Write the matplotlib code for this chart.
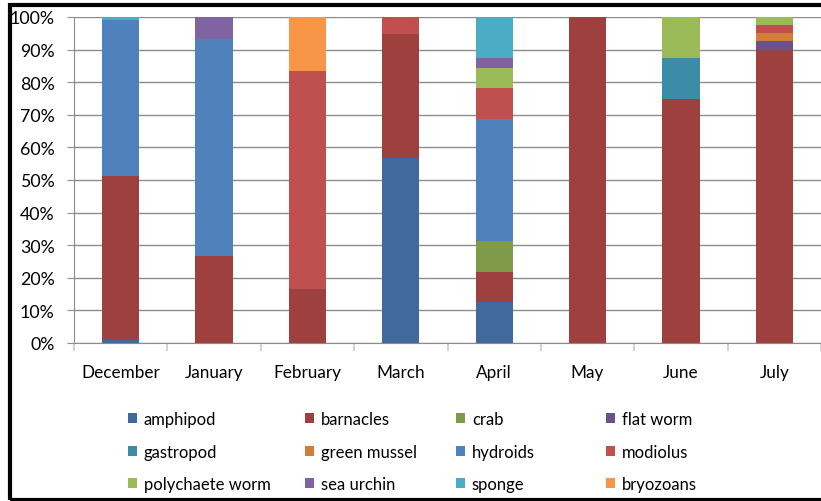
import matplotlib.pyplot as plt
import matplotlib.patches as mpatches
import numpy as np

plt.rcParams['font.family'] = ['Lato', 'DejaVu Sans']

months = ['December', 'January', 'February', 'March', 'April', 'May', 'June', 'July']

# percentage of each taxon per month
amphipod        = [0.8, 0, 0, 56.6, 12.5, 0, 0, 0]
barnacles       = [50.5, 26.6, 16.7, 38.2, 9.4, 100, 75.0, 90.0]
crab            = [0, 0, 0, 0, 9.4, 0, 0, 0]
flat_worm       = [0, 0, 0, 0, 0, 0, 0, 2.5]
gastropod       = [0, 0, 0, 0, 0, 0, 12.5, 0]
green_mussel    = [0, 0, 0, 0, 0, 0, 0, 2.5]
hydroids        = [47.7, 66.7, 0, 0, 37.5, 0, 0, 0]
modiolus        = [0, 0, 66.6, 5.2, 9.4, 0, 0, 2.5]
polychaete_worm = [0, 0, 0, 0, 6.2, 0, 12.5, 2.5]
sea_urchin      = [0, 6.7, 0, 0, 3.1, 0, 0, 0]
sponge          = [1.0, 0, 0, 0, 12.5, 0, 0, 0]
bryozoans       = [0, 0, 16.7, 0, 0, 0, 0, 0]

series = [
    ('amphipod', amphipod, '#41699b'),
    ('barnacles', barnacles, '#9d403e'),
    ('crab', crab, '#7f9a48'),
    ('flat worm', flat_worm, '#6a518a'),
    ('gastropod', gastropod, '#3b8ca6'),
    ('green mussel', green_mussel, '#d27d38'),
    ('hydroids', hydroids, '#4f81bd'),
    ('modiolus', modiolus, '#c0504d'),
    ('polychaete worm', polychaete_worm, '#9bbb59'),
    ('sea urchin', sea_urchin, '#8064a2'),
    ('sponge', sponge, '#4bacc6'),
    ('bryozoans', bryozoans, '#f79646'),
]

fig = plt.figure(figsize=(8.21, 5.02), dpi=100)
ax = fig.add_axes([74 / 821, 1 - 344 / 502, 1 - 74 / 821, (344 - 18) / 502])

x = np.arange(len(months))
bottom = np.zeros(len(months))
handles = []
for name, vals, col in series:
    vals = np.array(vals, dtype=float)
    b = ax.bar(x, vals, 0.4, bottom=bottom, color=col, label=name, linewidth=0)
    handles.append(b)
    bottom += vals

grid_c = '#8c8c8c'
ax.set_ylim(0, 100)
ax.set_xlim(-0.5, len(months) - 0.5)
ax.set_yticks(np.arange(0, 101, 10))
ax.set_yticklabels([f'{v}%' for v in range(0, 101, 10)])
ax.yaxis.grid(True, color=grid_c, linewidth=1)
ax.set_axisbelow(True)
ax.set_xticks(x)
ax.set_xticklabels(months)
ax.set_xticks(np.arange(-0.5, len(months)), minor=True)
ax.tick_params(axis='x', which='major', length=0, pad=15, labelsize=12.3, colors='#000000')
ax.tick_params(axis='x', which='minor', length=6, color='#c8c8c8', width=1.2)
ax.tick_params(axis='y', length=5, color=grid_c, pad=9, labelsize=12.8)
for s in ['top', 'right']:
    ax.spines[s].set_visible(False)
ax.spines['left'].set_color(grid_c)
ax.spines['bottom'].set_color(grid_c)

# legend: 4 columns, laid out row by row
col_x = [128 / 821, 305 / 821, 456 / 821, 606 / 821]
for j in range(4):
    hs = [handles[j + 4 * r] for r in range(3)]
    ls = [series[j + 4 * r][0] for r in range(3)]
    leg = fig.legend(hs, ls, loc='upper left', bbox_to_anchor=(col_x[j], 1 - 412 / 502),
                     frameon=False, fontsize=12, handlelength=0.55, handleheight=0.55,
                     handletextpad=0.4, labelspacing=1.0, borderpad=0, borderaxespad=0)

# black frame around the picture
fig.patches.append(mpatches.Rectangle((10 / 821, 1.5 / 502), 1.0, 495 / 502,
                                      transform=fig.transFigure, fill=False,
                                      edgecolor='black', linewidth=3))

plt.savefig('out.png', dpi=100)
